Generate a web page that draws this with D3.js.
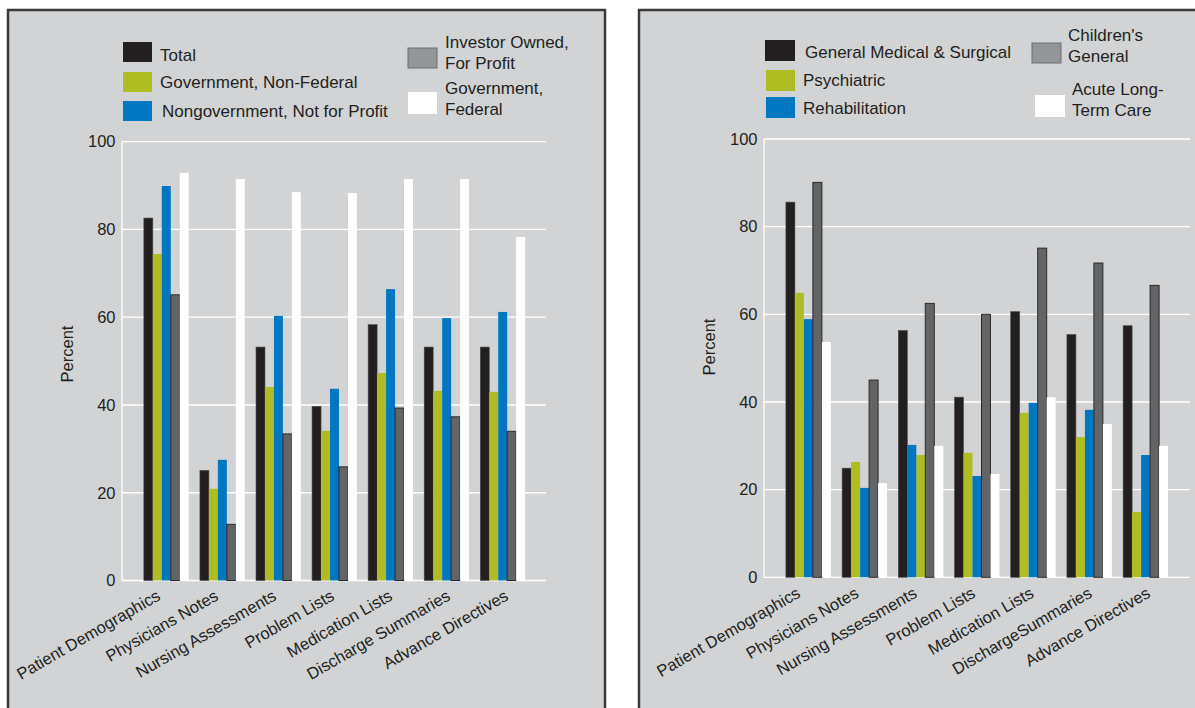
<!DOCTYPE html>
<html>
<head>
<meta charset="utf-8">
<script src="https://cdn.jsdelivr.net/npm/d3@7"></script>
<style>
  html, body { margin: 0; padding: 0; background: #ffffff; }
  svg { display: block; font-family: "Liberation Sans", Arial, Helvetica, sans-serif; }
</style>
</head>
<body>
<svg id="chart" width="1195" height="708"></svg>
<script>
// ---------------- DATA ----------------
const yTicks = [0, 20, 40, 60, 80, 100];
const axisTitle = "Percent";

// Left chart: by ownership
const leftCategories = ["Patient Demographics", "Physicians Notes", "Nursing Assessments", "Problem Lists", "Medication Lists", "Discharge Summaries", "Advance Directives"];
const leftSeriesLabels = [["Total"], ["Government, Non-Federal"], ["Nongovernment, Not for Profit"], ["Investor Owned,", "For Profit"], ["Government,", "Federal"]];
const leftTotal        = [82.6, 25.1, 53.2, 39.7, 58.3, 53.2, 53.2];
const leftGovNonFed    = [74.4, 20.9, 44.1, 34.1, 47.3, 43.2, 43.0];
const leftNongovNFP    = [89.9, 27.5, 60.3, 43.7, 66.4, 59.8, 61.2];
const leftInvestor     = [65.1, 12.8, 33.4, 25.9, 39.3, 37.3, 34.0];
const leftGovFederal   = [92.9, 91.5, 88.5, 88.3, 91.5, 91.5, 78.3];

// Right chart: by hospital type
const rightCategories = ["Patient Demographics", "Physicians Notes", "Nursing Assessments", "Problem Lists", "Medication Lists", "DischargeSummaries", "Advance Directives"];
const rightSeriesLabels = [["General Medical & Surgical"], ["Psychiatric"], ["Rehabilitation"], ["Children's", "General"], ["Acute Long-", "Term Care"]];
const rightGenMedSurg  = [85.6, 24.9, 56.3, 41.1, 60.6, 55.4, 57.4];
const rightPsychiatric = [64.9, 26.3, 27.9, 28.4, 37.5, 32.0, 14.9];
const rightRehab       = [58.9, 20.4, 30.2, 23.1, 39.8, 38.2, 27.9];
const rightChildrens   = [90.1, 45.0, 62.5, 60.0, 75.1, 71.7, 66.6];
const rightAcuteLTC    = [53.7, 21.5, 30.0, 23.6, 41.1, 35.0, 30.0];
// order in which the series' bars appear inside each category group (as in the original)
const rightBarOrder    = [[0,1,2,3,4],[0,1,2,3,4],[0,2,1,3,4],[0,1,2,3,4],[0,1,2,3,4],[0,1,2,3,4],[0,1,2,3,4]];

// ---------------- STYLE ----------------
const barColors    = ["#231f20", "#afbd22", "#0077c0", "#636466", "#ffffff"];
const legendColors = ["#231f20", "#afbd22", "#0077c0", "#939598", "#ffffff"];
const textColor = "#231f20";
const panelBg = "#d1d3d4";
const fontSize = 16.5;
const legendFontSize = 17;

const svg = d3.select("#chart");

function drawPanel(opt) {
  const g = svg.append("g");
  // panel background + frame
  g.append("rect")
    .attr("x", opt.panel.x).attr("y", opt.panel.y)
    .attr("width", opt.panel.w).attr("height", opt.panel.h)
    .attr("fill", panelBg).attr("stroke", "#3a3a3c").attr("stroke-width", 2.5);

  const x = d3.scaleBand().domain(opt.categories)
    .range([opt.plot.x0, opt.plot.x1]).paddingInner(0.2).paddingOuter(0.39);
  const slot = d3.scaleBand().domain(d3.range(opt.series.length)).range([0, x.bandwidth()]);
  const y = d3.scaleLinear().domain([0, 100]).range([opt.plot.y0, opt.plot.y1]);
  // label anchor positions (labels are spaced a little wider than the bar groups in the original)
  const xl = d3.scalePoint().domain(opt.categories).range(opt.labelRange);

  // gridlines
  g.append("g").selectAll("line").data(yTicks).join("line")
    .attr("x1", opt.plot.x0).attr("x2", opt.plot.gx1)
    .attr("y1", d => y(d)).attr("y2", d => y(d))
    .attr("stroke", "#ffffff").attr("stroke-width", 1.3);
  // y axis line
  g.append("line")
    .attr("x1", opt.plot.x0).attr("x2", opt.plot.x0)
    .attr("y1", y(0)).attr("y2", y(100))
    .attr("stroke", "#ffffff").attr("stroke-width", 1.3);

  // y tick labels via d3 axis
  const yAxis = d3.axisLeft(y).tickValues(yTicks).tickSize(0).tickPadding(6.5);
  const ya = g.append("g").attr("transform", `translate(${opt.plot.x0},0)`).call(yAxis);
  ya.select(".domain").remove();
  ya.selectAll("text").attr("font-size", fontSize).attr("fill", textColor)
    .attr("font-family", "Liberation Sans, Arial, sans-serif");

  // axis title
  g.append("text")
    .attr("transform", `translate(${opt.titleX},${opt.titleY}) rotate(-90)`)
    .attr("text-anchor", "middle")
    .attr("font-size", fontSize).attr("fill", textColor)
    .text(axisTitle);

  // bars
  const barData = [];
  opt.categories.forEach((c, i) => {
    opt.series.forEach((vals, s) => {
      const pos = opt.order ? opt.order[i].indexOf(s) : s;
      barData.push({ c, s, pos, v: vals[i] });
    });
  });
  g.append("g").selectAll("rect").data(barData).join("rect")
    .attr("x", d => x(d.c) + slot(d.pos))
    .attr("y", d => y(d.v))
    .attr("width", slot.bandwidth())
    .attr("height", d => y(0) - y(d.v))
    .attr("fill", d => barColors[d.s])
    .attr("stroke", d => d.s === 3 ? "#2a2a2b" : (d.s === 0 ? "#4a4a4c" : "none"))
    .attr("stroke-width", d => d.s === 3 ? 1 : 0.6);

  // x labels (rotated)
  const xAxis = d3.axisBottom(xl).tickSize(0).tickPadding(0);
  const xa = g.append("g").attr("transform", `translate(0,${y(0)})`).call(xAxis);
  xa.select(".domain").remove();
  xa.selectAll(".tick text")
    .attr("font-size", fontSize).attr("fill", textColor)
    .attr("font-family", "Liberation Sans, Arial, sans-serif")
    .attr("text-anchor", "end")
    .attr("dy", null).attr("y", 0).attr("x", 0)
    .attr("transform", `translate(0,${opt.labelDy}) rotate(-30)`);

  // legend
  const lg = g.append("g");
  opt.legend.forEach((L, s) => {
    lg.append("rect")
      .attr("x", L.sx).attr("y", L.sy).attr("width", L.sw).attr("height", L.sh)
      .attr("fill", legendColors[s])
      .attr("stroke", s === 3 ? "#6d6e71" : "none").attr("stroke-width", 1);
    const t = lg.append("text").attr("font-size", legendFontSize).attr("fill", textColor);
    opt.seriesLabels[s].forEach((line, k) => {
      t.append("tspan").attr("x", L.tx).attr("y", L.ty + k * 21).text(line);
    });
  });
}

drawPanel({
  panel: { x: 8, y: 10, w: 597, h: 720 },
  plot: { x0: 122, x1: 547, gx1: 546, y0: 580.5, y1: 141.7 },
  categories: leftCategories,
  series: [leftTotal, leftGovNonFed, leftNongovNFP, leftInvestor, leftGovFederal],
  seriesLabels: leftSeriesLabels,
  titleX: 73, titleY: 354,
  labelRange: [161, 509], labelDy: 18.5,
  legend: [
    { sx: 123, sy: 42, sw: 29, sh: 20, tx: 160, ty: 61 },
    { sx: 123, sy: 72, sw: 29, sh: 20, tx: 160, ty: 88 },
    { sx: 123, sy: 101, sw: 29, sh: 20, tx: 162, ty: 117 },
    { sx: 408, sy: 48, sw: 29, sh: 20, tx: 445, ty: 48 },
    { sx: 408, sy: 92, sw: 29, sh: 22, tx: 445, ty: 94 }
  ]
});

drawPanel({
  panel: { x: 639, y: 10, w: 600, h: 720 },
  plot: { x0: 764, x1: 1190, gx1: 1190, y0: 577.3, y1: 139 },
  categories: rightCategories,
  series: [rightGenMedSurg, rightPsychiatric, rightRehab, rightChildrens, rightAcuteLTC],
  order: rightBarOrder,
  seriesLabels: rightSeriesLabels,
  titleX: 715, titleY: 347,
  labelRange: [801, 1151], labelDy: 19,
  legend: [
    { sx: 765, sy: 40, sw: 30, sh: 21, tx: 805, ty: 58 },
    { sx: 766, sy: 70, sw: 29, sh: 21, tx: 803, ty: 86 },
    { sx: 766, sy: 97, sw: 29, sh: 21, tx: 803, ty: 114 },
    { sx: 1032, sy: 43, sw: 29, sh: 20, tx: 1068, ty: 41 },
    { sx: 1035, sy: 95, sw: 30, sh: 22, tx: 1072, ty: 95 }
  ]
});
</script>
</body>
</html>
